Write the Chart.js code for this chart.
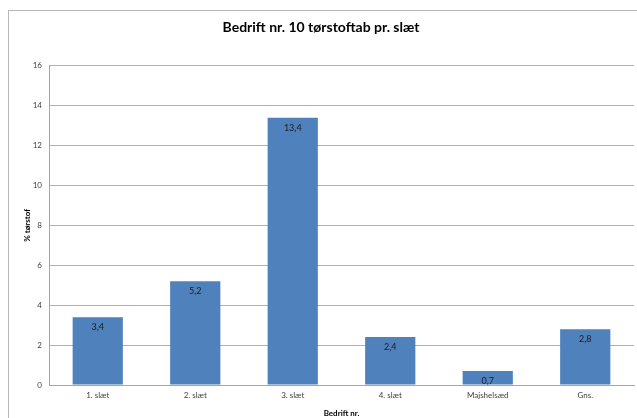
<!DOCTYPE html>
<html><head><meta charset="utf-8">
<script src="https://cdn.jsdelivr.net/npm/chart.js@4"></script>
<style>html,body{margin:0;padding:0;background:#fff;}#wrap{width:637px;height:418px;}</style>
</head><body><div id="wrap"><canvas id="c" width="637" height="418"></canvas></div>
<script>
const categories = ["1. slæt", "2. slæt", "3. slæt", "4. slæt", "Majshelsæd", "Gns."];
const values = [3.4, 5.2, 13.4, 2.4, 0.7, 2.8];
const yTicks = [0, 2, 4, 6, 8, 10, 12, 14, 16];
const titleText = "Bedrift nr. 10 tørstoftab pr. slæt";
const xTitle = "Bedrift nr.";
const yTitle = "% tørstof";

const FONT = "Lato, 'Open Sans', sans-serif";

const frame = {
  id: 'frame',
  beforeDraw(chart) {
    const ctx = chart.ctx;
    ctx.save();
    ctx.fillStyle = '#fff';
    ctx.fillRect(0, 0, chart.width, chart.height);
    ctx.strokeStyle = '#b8b8b8';
    ctx.lineWidth = 1;
    ctx.strokeRect(8.5, 10.5, 700, 500);
    ctx.restore();
  }
};

const valueLabels = {
  id: 'valueLabels',
  afterDatasetsDraw(chart) {
    const ctx = chart.ctx;
    const meta = chart.getDatasetMeta(0);
    ctx.save();
    ctx.font = "9px " + FONT;
    ctx.fillStyle = '#1c1c1c';
    ctx.textAlign = 'center';
    ctx.textBaseline = 'middle';
    meta.data.forEach((bar, i) => {
      const v = chart.data.datasets[0].data[i];
      ctx.fillText(String(v).replace('.', ','), bar.x, bar.y + 10);
    });
    ctx.restore();
  }
};

new Chart(document.getElementById('c'), {
  type: 'bar',
  data: {
    labels: categories,
    datasets: [{
      data: values,
      backgroundColor: '#4f81bd',
      borderWidth: 0,
      categoryPercentage: 1.0,
      barPercentage: 0.515
    }]
  },
  options: {
    responsive: false,
    animation: false,
    devicePixelRatio: 1,
    layout: { padding: { left: 8, top: 10, right: 3, bottom: 0 } },
    plugins: {
      legend: { display: false },
      tooltip: { enabled: false },
      title: {
        display: true,
        text: titleText,
        color: '#000',
        font: { family: FONT, size: 14, weight: 'bold' },
        padding: { top: 9, bottom: 30 }
      }
    },
    scales: {
      x: {
        grid: { display: false, drawTicks: false },
        border: { display: true, color: '#a6a6a6' },
        ticks: { color: '#404040', font: { family: FONT, size: 8 }, padding: 6, maxRotation: 0, autoSkip: false },
        title: { display: true, text: xTitle, color: '#000', font: { family: FONT, size: 8, weight: 'bold' }, padding: { top: 1, bottom: 0 } },
        afterFit(s) { s.height = 33; }
      },
      y: {
        min: 0, max: 16,
        afterBuildTicks(s) { s.ticks = yTicks.map(v => ({ value: v })); },
        grid: { color: '#b0b0b0', drawTicks: false },
        border: { display: true, color: '#a6a6a6' },
        ticks: { color: '#404040', font: { family: FONT, size: 8 }, padding: 7 },
        title: { display: true, text: yTitle, color: '#000', font: { family: FONT, size: 8, weight: 'bold' }, padding: { top: 15, bottom: 4 } },
        afterFit(s) { s.width = 41; }
      }
    }
  },
  plugins: [frame, valueLabels]
});
</script>
</body></html>
